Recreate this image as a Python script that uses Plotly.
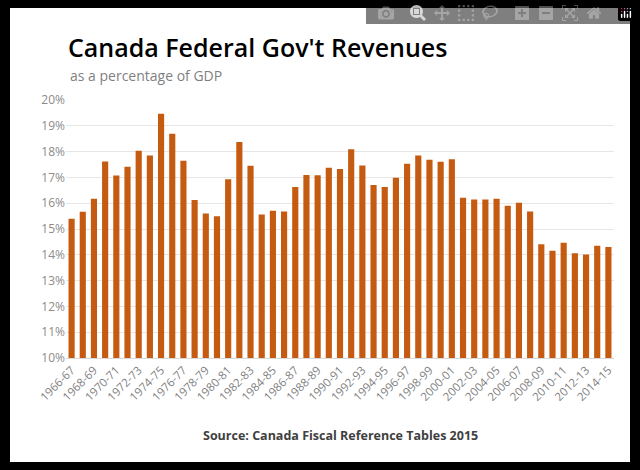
import plotly.graph_objects as go

# Fiscal years 1966-67 .. 2014-15
years = [f"{y}-{str(y + 1)[-2:]}" for y in range(1966, 2015)]
revenue_pct = [
    15.40, 15.67, 16.17, 17.62, 17.07, 17.41, 18.03, 17.85, 19.47, 18.69,
    17.65, 16.12, 15.60, 15.49, 16.93, 18.37, 17.45, 15.56, 15.71, 15.68,
    16.63, 17.09, 17.08, 17.37, 17.33, 18.09, 17.46, 16.71, 16.63, 16.99,
    17.53, 17.85, 17.68, 17.61, 17.70, 16.21, 16.14, 16.14, 16.17, 15.90,
    16.02, 15.68, 14.41, 14.16, 14.47, 14.06, 14.01, 14.35, 14.30,
]
tick_labels = years[::2]
y_ticks = list(range(10, 21))

# plot area in pixels
L, R, T, B = 66, 26, 100, 112
PW, PH = 640 - L - R, 470 - T - B


def px(x):
    return (x - L) / PW


def py(y):
    return (470 - B - y) / PH


fig = go.Figure()
fig.add_trace(go.Bar(
    x=years, y=revenue_pct,
    marker=dict(color="#c55a11", line=dict(width=0)),
    width=0.55,
))

fig.update_layout(
    width=640, height=470,
    paper_bgcolor="black", plot_bgcolor="white",
    margin=dict(l=L, r=R, t=T, b=B),
    showlegend=False,
    font=dict(family="Open Sans", color="#7f7f7f"),
    xaxis=dict(
        type="category", tickvals=tick_labels, ticktext=tick_labels,
        tickangle=-45, tickfont=dict(size=11.5, color="#7f7f7f"),
        showgrid=False, showline=True, linecolor="#d9d9d9",
    ),
    yaxis=dict(
        range=[10, 20], tickvals=y_ticks,
        ticktext=[f"{v}%" for v in y_ticks],
        tickfont=dict(size=12, color="#8c8c8c"),
        gridcolor="#e6e6e6", zeroline=False,
    ),
    shapes=[dict(type="rect", xref="paper", yref="paper", layer="below",
                 x0=px(10), x1=px(630), y0=py(462), y1=py(8),
                 fillcolor="white", line=dict(width=0))],
    annotations=[
        dict(text="Canada Federal Gov't Revenues", xref="paper", yref="paper",
             x=px(66), y=py(47), xanchor="left", yanchor="middle",
             showarrow=False,
             font=dict(size=25, color="black", family="Open Sans", weight=600)),
        dict(text="as a percentage of GDP", xref="paper", yref="paper",
             x=px(68), y=py(75), xanchor="left", yanchor="middle",
             showarrow=False, font=dict(size=14, color="#7f7f7f")),
        dict(text="<b>Source: Canada Fiscal Reference Tables 2015</b>", xref="paper",
             yref="paper", x=px(340), y=py(435), xanchor="center",
             yanchor="middle", showarrow=False,
             font=dict(size=12.5, color="#404040")),
    ],
)

fig.write_html(
    "out.html",
    post_script="document.body.style.margin='0';document.body.style.background='black';",
)
